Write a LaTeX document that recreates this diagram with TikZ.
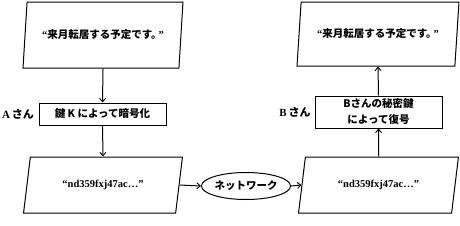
\documentclass[tikz,border=0pt]{standalone}
\usepackage{fontspec}
\setmainfont{Liberation Serif}
\newfontfamily\jp{Noto Sans CJK JP}
\usetikzlibrary{shapes.geometric,arrows.meta}
\begin{document}
\begin{tikzpicture}[x=1pt,y=-1pt,
  para/.style={draw, trapezium, trapezium left angle=#1, trapezium right angle=180-#1,
    trapezium stretches=true, minimum width=160pt, inner sep=0pt, line width=1pt,
    font=\fontsize{10.5}{12}\selectfont\bfseries},
  procbox/.style={draw, rectangle, inner sep=0pt, line width=1pt, align=center,
    minimum width=127pt, font=\jp\fontsize{10.5}{16}\selectfont\bfseries},
  netnode/.style={draw, ellipse, inner sep=0pt, line width=1pt, minimum width=78pt,
    minimum height=27pt, font=\jp\fontsize{10.5}{12}\selectfont\bfseries},
  who/.style={font=\fontsize{11}{12}\selectfont\bfseries, inner sep=0pt},
  flow/.style={line width=1pt, -{Straight Barb[length=3.5pt,width=6pt,line width=0.9pt]}}]
\useasboundingbox (0,0) rectangle (460,225);
\node[para=72, minimum height=66pt] (p1) at (103,35) {“{\jp 来月転居する予定です。}\kern-3pt”};
\node[procbox, minimum height=22pt] (ka) at (102.5,114) {鍵 K によって暗号化};
\node[para=68.5, minimum height=56pt] (p2) at (103,185) {“nd359fxj47ac…”};
\node[netnode] (net) at (246,186) {ネットワーク};
\node[para=68.5, minimum height=56pt, minimum width=161pt] (p3) at (378.5,185) {“nd359fxj47ac…”};
\node[procbox, minimum height=32pt] (kb) at (378.5,112) {Bさんの秘密鍵\\によって復号};
\node[para=72, minimum height=64pt, minimum width=162pt] (p4) at (378,34) {“{\jp 来月転居する予定です。}\kern-3pt”};
\node[who] (wa) at (18,114) {A\,{\jp さん}};
\node[who] (wb) at (295,112) {B\,{\jp さん}};
\draw[flow] (p1.south) -- (ka.north);
\draw[flow] (ka.south) -- (p2.north);
\draw[flow] (p2.east) -- (net.west);
\draw[flow] (net.east) -- (p3.west);
\draw[flow] (p3.north) -- (kb.south);
\draw[flow] (kb.north) -- (p4.south);
\end{tikzpicture}
\end{document}
